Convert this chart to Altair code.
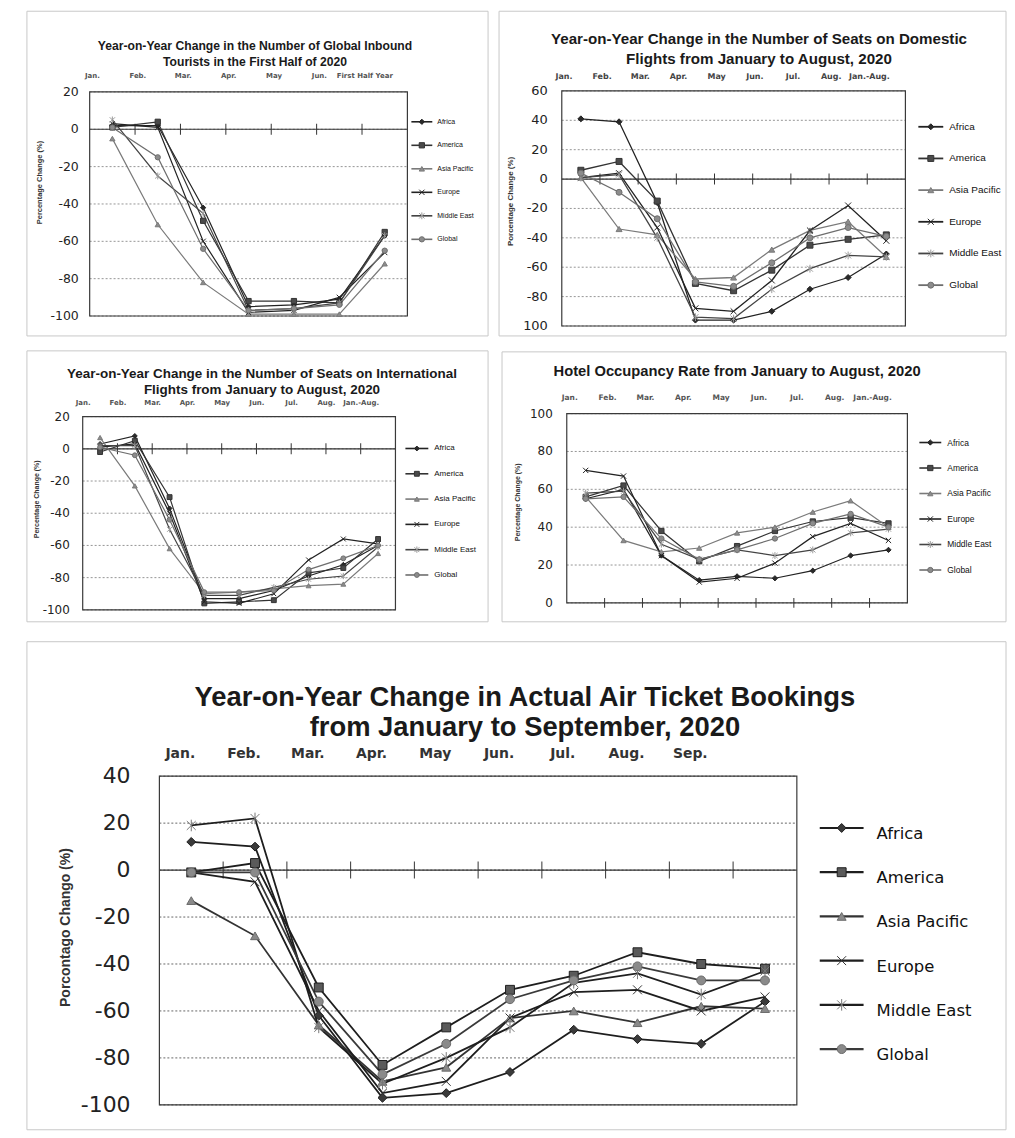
import altair as alt
import pandas as pd

SERIES = ["Africa", "America", "Asia Pacific", "Europe", "Middle East", "Global"]
SHAPES = ["diamond", "square", "triangle-up",
          "M-1,-1L1,1M-1,1L1,-1",
          "M-1,-1L1,1M-1,1L1,-1M0,-1.3L0,1.3",
          "circle"]

# ---------- Panel 1 : inbound tourists, first half 2020 ----------
P1_TITLE = "Year-on-Year Change in the Number of Global Inbound\nTourists in the First Half of 2020"
P1_MONTHS = ["Jan.", "Feb.", "Mar.", "Apr.", "May", "Jun.", "First Half Year"]
P1_YTITLE = "Percentage Change (%)"
P1_YTICKS = [-100, -80, -60, -40, -20, 0, 20]
P1_YLABELS = ["-100", "-80", "-60", "-40", "-20", "0", "20"]
P1_AFRICA = [2, 2, -42, -95, -94, -91, -57]
P1_AMERICA = [1, 4, -49, -92, -92, -93, -55]
P1_ASIA_PACIFIC = [-5, -51, -82, -99, -99, -99, -72]
P1_EUROPE = [3, 1, -60, -98, -97, -90, -66]
P1_MIDDLE_EAST = [5, -25, -45, -97, -96, -93, -57]
P1_GLOBAL = [1, -15, -64, -97, -96, -94, -65]

# ---------- Panel 2 : domestic flight seats ----------
P2_TITLE = "Year-on-Year Change in the Number of Seats on Domestic\nFlights from January to August, 2020"
P2_MONTHS = ["Jan.", "Feb.", "Mar.", "Apr.", "May", "Jun.", "Jul.", "Aug.", "Jan.-Aug."]
P2_YTITLE = "Porcentage Change (%)"
P2_YTICKS = [-100, -80, -60, -40, -20, 0, 20, 40, 60]
P2_YLABELS = ["100", "-80", "-60", "-40", "-20", "0", "20", "40", "60"]
P2_AFRICA = [41, 39, -16, -96, -96, -90, -75, -67, -51]
P2_AMERICA = [6, 12, -15, -71, -76, -62, -45, -41, -38]
P2_ASIA_PACIFIC = [1, -34, -38, -68, -67, -48, -35, -29, -53]
P2_EUROPE = [1, 4, -33, -88, -90, -69, -35, -18, -42]
P2_MIDDLE_EAST = [1, 3, -40, -94, -95, -75, -61, -52, -53]
P2_GLOBAL = [4, -9, -27, -70, -73, -57, -40, -33, -39]

# ---------- Panel 3 : international flight seats ----------
P3_TITLE = "Year-on-Year Change in the Number of Seats on International\nFlights from January to August, 2020"
P3_MONTHS = ["Jan.", "Feb.", "Mar.", "Apr.", "May", "Jun.", "Jul.", "Aug.", "Jan.-Aug."]
P3_YTITLE = "Percentage Change (%)"
P3_YTICKS = [-100, -80, -60, -40, -20, 0, 20]
P3_YLABELS = ["-100", "-80", "-60", "-40", "-20", "0", "20"]
P3_AFRICA = [3, 8, -37, -93, -93, -88, -79, -72, -60]
P3_AMERICA = [-2, 5, -30, -96, -95, -94, -77, -74, -56]
P3_ASIA_PACIFIC = [7, -23, -62, -90, -89, -87, -85, -84, -65]
P3_EUROPE = [1, 3, -40, -95, -96, -90, -69, -56, -59]
P3_MIDDLE_EAST = [2, 2, -50, -91, -91, -86, -81, -79, -61]
P3_GLOBAL = [1, -4, -44, -89, -89, -88, -75, -68, -60]

# ---------- Panel 4 : hotel occupancy ----------
P4_TITLE = "Hotel Occupancy Rate from January to August, 2020"
P4_MONTHS = ["Jan.", "Feb.", "Mar.", "Apr.", "May", "Jun.", "Jul.", "Aug.", "Jan.-Aug."]
P4_YTITLE = "Percentage Change (%)"
P4_YTICKS = [0, 20, 40, 60, 80, 100]
P4_YLABELS = ["0", "20", "40", "60", "80", "100"]
P4_AFRICA = [55, 60, 25, 12, 14, 13, 17, 25, 28]
P4_AMERICA = [56, 62, 38, 22, 30, 38, 43, 45, 42]
P4_ASIA_PACIFIC = [56, 33, 27, 29, 37, 40, 48, 54, 40]
P4_EUROPE = [70, 67, 25, 11, 13, 21, 35, 42, 33]
P4_MIDDLE_EAST = [58, 59, 31, 23, 28, 25, 28, 37, 39]
P4_GLOBAL = [55, 56, 34, 23, 28, 34, 42, 47, 40]

# ---------- Panel 5 : air ticket bookings ----------
P5_TITLE = "Year-on-Year Change in Actual Air Ticket Bookings\nfrom January to September, 2020"
P5_MONTHS = ["Jan.", "Feb.", "Mar.", "Apr.", "May", "Jun.", "Jul.", "Aug.", "Sep."]
P5_YTITLE = "Porcontago Chango (%)"
P5_YTICKS = [-100, -80, -60, -40, -20, 0, 20, 40]
P5_YLABELS = ["-100", "-80", "-60", "-40", "-20", "0", "20", "40"]
P5_AFRICA = [12, 10, -62, -97, -95, -86, -68, -72, -74, -56]
P5_AMERICA = [-1, 3, -50, -83, -67, -51, -45, -35, -40, -42]
P5_ASIA_PACIFIC = [-13, -28, -66, -90, -84, -63, -60, -65, -58, -59]
P5_EUROPE = [-1, -5, -60, -95, -90, -63, -52, -51, -60, -54]
P5_MIDDLE_EAST = [19, 22, -67, -91, -80, -67, -48, -44, -53, -43]
P5_GLOBAL = [-1, -1, -56, -87, -74, -55, -47, -41, -47, -47]

SMALL_STYLE = dict(
    line_colors=["#222222", "#333333", "#7a7a7a", "#222222", "#444444", "#6e6e6e"],
    marker_fill=["#2a2a2a", "#4a4a4a", "#8c8c8c", "transparent", "transparent", "#8c8c8c"],
    marker_stroke=["#222222", "#333333", "#7a7a7a", "#222222", "#9a9a9a", "#6e6e6e"],
)
BIG_STYLE = dict(
    line_colors=["#1e1e1e", "#1e1e1e", "#333333", "#1e1e1e", "#1e1e1e", "#3a3a3a"],
    marker_fill=["#3a3a3a", "#5a5a5a", "#8a8a8a", "transparent", "transparent", "#8a8a8a"],
    marker_stroke=["#1e1e1e", "#1e1e1e", "#6a6a6a", "#333333", "#777777", "#6a6a6a"],
)

M = 8  # page margin: layout numbers below are page pixels


def panel_layers(p):
    x0, y0, x1, y1 = [v - M for v in p["plot"]]
    fx0, fy0, fx1, fy1 = [v - M for v in p["frame"]]
    n = len(p["series"][0])
    st = p["style"]

    rows = []
    for s, vals in zip(SERIES, p["series"]):
        for i, v in enumerate(vals):
            rows.append({"series": s, "pos": i + 0.5, "value": v})
    df = pd.DataFrame(rows)

    xs = alt.Scale(domain=[0, n], range=[x0, x1], nice=False, zero=False)
    ys = alt.Scale(domain=p["ydomain"], range=[y1, y0], nice=False, zero=False)
    color = alt.Color("series:N", scale=alt.Scale(domain=SERIES, range=st["line_colors"]), legend=None)
    shape = alt.Shape("series:N", scale=alt.Scale(domain=SERIES, range=SHAPES), legend=None)
    fill = alt.Fill("series:N", scale=alt.Scale(domain=SERIES, range=st["marker_fill"]), legend=None)
    stroke = alt.Stroke("series:N", scale=alt.Scale(domain=SERIES, range=st["marker_stroke"]), legend=None)

    one = pd.DataFrame({"k": [0]})
    frame = alt.Chart(one).mark_rect(fill="transparent", stroke="#c8c8c8", strokeWidth=1).encode(
        x=alt.value(fx0), x2=alt.value(fx1), y=alt.value(fy0), y2=alt.value(fy1))

    gdf = pd.DataFrame({"t": p["yticks"], "lab": p["ylabels"]})
    grid = alt.Chart(gdf).mark_rule(strokeDash=[2, 2], color=p["grid_color"], strokeWidth=0.9).encode(
        y=alt.Y("t:Q", scale=ys, axis=None), x=alt.value(x0), x2=alt.value(x1))
    ylab = alt.Chart(gdf).mark_text(
        align="right", baseline="middle", font="DejaVu Sans", fontSize=p["ylab_size"], color="#222"
    ).encode(y=alt.Y("t:Q", scale=ys, axis=None), x=alt.value(p["ylab_right"] - M), text="lab:N")

    border = alt.Chart(one).mark_rect(fill="transparent", stroke="#3a3a3a", strokeWidth=1.2).encode(
        x=alt.value(x0), x2=alt.value(x1), y=alt.value(y0), y2=alt.value(y1))

    tcx, tcy = p["ytitle_pos"]
    ytitle = alt.Chart(pd.DataFrame({"t": [p["ytitle"]]})).mark_text(
        angle=270, align="center", baseline="middle", font="Liberation Sans",
        fontSize=p["ytitle_size"], fontWeight="bold", color="#333"
    ).encode(x=alt.value(tcx - M), y=alt.value(tcy - M), text="t:N")

    tx, ty, tsize, tlh = p["title_pos"]
    title = alt.Chart(pd.DataFrame({"t": [p["title"]]})).mark_text(
        font="Liberation Sans", fontSize=tsize, fontWeight="bold", color="#1a1a1a",
        align="center", baseline="middle", lineBreak="\n", lineHeight=tlh
    ).encode(x=alt.value(tx - M), y=alt.value(ty - M), text="t:N")

    mdf = pd.DataFrame({"lab": p["months"], "pos": [i + 0.5 for i in range(len(p["months"]))]})
    my, mdx, msize, mcolor = p["month_style"]
    months = alt.Chart(mdf).mark_text(
        font="DejaVu Sans", fontSize=msize, fontWeight="bold", color=mcolor,
        align="center", baseline="middle", dx=mdx
    ).encode(x=alt.X("pos:Q", scale=xs, axis=None), y=alt.value(my - M), text="lab:N")

    zdf = pd.DataFrame({"z": [0]})
    zero = alt.Chart(zdf).mark_rule(color="#333", strokeWidth=1.2).encode(
        y=alt.Y("z:Q", scale=ys, axis=None), x=alt.value(x0), x2=alt.value(x1))

    bdf = pd.DataFrame({"b": list(range(1, n)), "z": [0] * (n - 1)})
    ticks = alt.Chart(bdf).mark_tick(
        orient="vertical", size=p["tick_size"], thickness=1, color="#333", opacity=1
    ).encode(x=alt.X("b:Q", scale=xs, axis=None), y=alt.Y("z:Q", scale=ys, axis=None))

    lines = alt.Chart(df).mark_line(strokeWidth=p["line_w"]).encode(
        x=alt.X("pos:Q", scale=xs, axis=None), y=alt.Y("value:Q", scale=ys, axis=None), color=color)
    pts = alt.Chart(df).mark_point(filled=True, size=p["msize"], opacity=1, strokeWidth=1).encode(
        x=alt.X("pos:Q", scale=xs, axis=None), y=alt.Y("value:Q", scale=ys, axis=None),
        shape=shape, fill=fill, stroke=stroke)

    parts = [frame, grid, ylab, ytitle, title, months]
    if p["zero_line"]:
        parts.append(zero)
    parts += [border, ticks, lines, pts]
    main = alt.layer(*parts)

    # hand-drawn legend (line + marker + label)
    la, lb, lt, ly0, ly1, lfs, lfont, ldy, lw = p["legend"]
    ldf = pd.DataFrame({"series": SERIES, "idx": list(range(len(SERIES)))})
    ly = alt.Y("idx:Q", scale=alt.Scale(domain=[0, len(SERIES) - 1], range=[ly0 - M, ly1 - M],
                                        nice=False, zero=False), axis=None)
    lrule = alt.Chart(ldf).mark_rule(strokeWidth=lw).encode(
        x=alt.value(la - M), x2=alt.value(lb - M), y=ly, color=color)
    lpt = alt.Chart(ldf).mark_point(filled=True, size=p["msize"], opacity=1, strokeWidth=1).encode(
        x=alt.value((la + lb) / 2 - M), y=ly, shape=shape, fill=fill, stroke=stroke)
    ltxt = alt.Chart(ldf).mark_text(
        align="left", baseline="middle", font=lfont, fontSize=lfs, color="#111", dy=ldy
    ).encode(x=alt.value(lt - M), y=ly, text="series:N")
    legend = alt.layer(lrule, lpt, ltxt)
    return [main, legend]


P1 = dict(
    plot=(90, 88, 409, 313), frame=(27, 7, 490, 333),
    ydomain=[-100, 20], yticks=P1_YTICKS, ylabels=P1_YLABELS, style=SMALL_STYLE,
    series=[P1_AFRICA, P1_AMERICA, P1_ASIA_PACIFIC, P1_EUROPE, P1_MIDDLE_EAST, P1_GLOBAL],
    title=P1_TITLE, months=P1_MONTHS, ytitle=P1_YTITLE,
    title_pos=(256, 42, 12.2, 16), month_style=(72, -20, 7, "#555"),
    ylab_size=12.5, ylab_right=79, ytitle_size=7.5, ytitle_pos=(40, 179),
    grid_color="#8a8a8a", zero_line=True,
    tick_size=11, line_w=1.2, msize=28,
    legend=(413, 434, 439, 118, 236, 7, "Liberation Sans", 0, 1.6),
)
P2 = dict(
    plot=(564, 87, 909, 323), frame=(501, 7, 1010, 333),
    ydomain=[-100, 60], yticks=P2_YTICKS, ylabels=P2_YLABELS, style=SMALL_STYLE,
    series=[P2_AFRICA, P2_AMERICA, P2_ASIA_PACIFIC, P2_EUROPE, P2_MIDDLE_EAST, P2_GLOBAL],
    title=P2_TITLE, months=P2_MONTHS, ytitle=P2_YTITLE,
    title_pos=(762, 35, 15.2, 20), month_style=(73, -17, 8, "#444"),
    ylab_size=13, ylab_right=550, ytitle_size=8, ytitle_pos=(513, 198),
    grid_color="#8a8a8a", zero_line=True,
    tick_size=11, line_w=1.3, msize=36,
    legend=(922, 947, 953, 123, 282, 10, "Liberation Sans", 0, 1.8),
)
P3 = dict(
    plot=(83, 414, 397, 608), frame=(27, 348, 490, 620),
    ydomain=[-100, 20], yticks=P3_YTICKS, ylabels=P3_YLABELS, style=SMALL_STYLE,
    series=[P3_AFRICA, P3_AMERICA, P3_ASIA_PACIFIC, P3_EUROPE, P3_MIDDLE_EAST, P3_GLOBAL],
    title=P3_TITLE, months=P3_MONTHS, ytitle=P3_YTITLE,
    title_pos=(263, 371, 13.5, 16.6), month_style=(400, -17, 7, "#555"),
    ylab_size=12, ylab_right=70, ytitle_size=7, ytitle_pos=(37, 497),
    grid_color="#8a8a8a", zero_line=True,
    tick_size=11, line_w=1.2, msize=24,
    legend=(407, 430, 436, 446, 573, 8, "Liberation Sans", 0, 1.6),
)
P4 = dict(
    plot=(569, 411, 911, 601), frame=(504, 349, 1010, 620),
    ydomain=[0, 100], yticks=P4_YTICKS, ylabels=P4_YLABELS, style=SMALL_STYLE,
    series=[P4_AFRICA, P4_AMERICA, P4_ASIA_PACIFIC, P4_EUROPE, P4_MIDDLE_EAST, P4_GLOBAL],
    title=P4_TITLE, months=P4_MONTHS, ytitle=P4_YTITLE,
    title_pos=(740, 369, 14.8, 16), month_style=(395, -16, 7.5, "#555"),
    ylab_size=12, ylab_right=555, ytitle_size=7, ytitle_pos=(520, 500),
    grid_color="#8a8a8a", zero_line=False,
    tick_size=10, line_w=1.2, msize=28,
    legend=(923, 945, 951, 440, 568, 8.5, "Liberation Sans", 0, 1.6),
)
P5 = dict(
    plot=(160, 775, 800, 1105), frame=(27, 640, 1010, 1130),
    ydomain=[-100, 40], yticks=P5_YTICKS, ylabels=P5_YLABELS, style=BIG_STYLE,
    series=[P5_AFRICA, P5_AMERICA, P5_ASIA_PACIFIC, P5_EUROPE, P5_MIDDLE_EAST, P5_GLOBAL],
    title=P5_TITLE, months=P5_MONTHS, ytitle=P5_YTITLE,
    title_pos=(527, 697, 27.5, 30), month_style=(753, -11, 14, "#333"),
    ylab_size=22, ylab_right=131, ytitle_size=14, ytitle_pos=(66, 927),
    grid_color="#555555", zero_line=True,
    tick_size=17, line_w=1.8, msize=80,
    legend=(823, 867, 880, 827, 1049, 16.5, "DejaVu Sans", 6, 2.2),
)

layers = []
for cfg in (P1, P2, P3, P4, P5):
    layers += panel_layers(cfg)

chart = alt.layer(*layers).resolve_scale(
    x="independent", y="independent", color="independent",
    fill="independent", stroke="independent", shape="independent",
).properties(
    width=1002, height=1124, padding=0, background="white",
).configure_view(strokeWidth=0)

chart.save("out.html", embed_options={"renderer": "svg", "actions": False})
